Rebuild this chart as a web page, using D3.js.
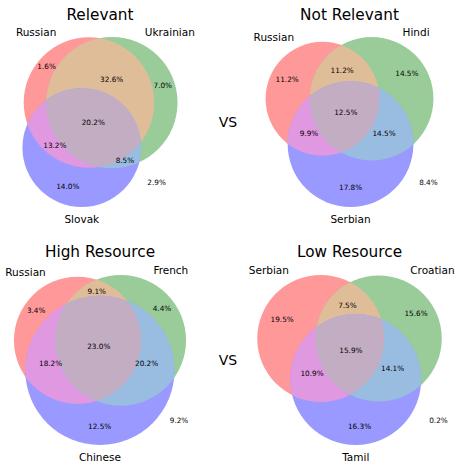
<!DOCTYPE html>
<html>
<head>
<meta charset="utf-8">
<script src="https://cdn.jsdelivr.net/npm/d3@7"></script>
<style>
  body { margin: 0; background: #fff; }
  svg text { font-family: 'DejaVu Sans', sans-serif; fill: #000; }
</style>
</head>
<body>
<div id="chart"></div>
<script>
// region order (matplotlib_venn style): Abc, aBc, ABc, abC, AbC, aBC, ABC
var titles = ['Relevant', 'Not Relevant', 'High Resource', 'Low Resource'];
var setNames = [
  ['Russian', 'Ukrainian', 'Slovak'],
  ['Russian', 'Hindi', 'Serbian'],
  ['Russian', 'French', 'Chinese'],
  ['Serbian', 'Croatian', 'Tamil']
];
var relevant     = [1.6, 7.0, 32.6, 14.0, 13.2, 8.5, 20.2];
var notRelevant  = [11.2, 14.5, 11.2, 17.8, 9.9, 14.5, 12.5];
var highResource = [3.4, 4.4, 9.1, 12.5, 18.2, 20.2, 23.0];
var lowResource  = [19.5, 15.6, 7.5, 16.3, 10.9, 14.1, 15.9];
var outside      = [2.9, 8.4, 9.2, 0.2];
var subsets = [relevant, notRelevant, highResource, lowResource];

var regionSets = [[1,0,0],[0,1,0],[1,1,0],[0,0,1],[1,0,1],[0,1,1],[1,1,1]];

var width = 457, height = 463;
var panelBox = [
  {cx: 100, cy: 122}, {cx: 349.5, cy: 122},
  {cx: 100, cy: 360}, {cx: 349.5, cy: 360}
];
var diagramHeight = 170;

// set colours like matplotlib_venn: r, g, b with alpha 0.4, mixed for overlaps
var base = [[1, 0, 0], [0, 0.502, 0], [0, 0, 1]];
function mix(idx) {
  var f = idx.length == 2 ? 0.7 : (idx.length == 3 ? 0.4 : 1);
  return [0, 1, 2].map(function(k) {
    return Math.min(1, f * d3.sum(idx, function(i) { return base[i][k] }));
  });
}
function blend(c) {
  // alpha 0.4 over white
  return d3.rgb.apply(null, c.map(function(v) { return Math.round(255 * (0.6 + 0.4 * v)) })).toString();
}
var regionColor = regionSets.map(function(m) {
  var idx = [];
  m.forEach(function(v, i) { if (v) idx.push(i) });
  return blend(mix(idx));
});

function lensArea(r1, r2, d) {
  if (d >= r1 + r2) return 0;
  if (d <= Math.abs(r1 - r2)) return Math.PI * Math.min(r1, r2) * Math.min(r1, r2);
  return r1 * r1 * Math.acos((d * d + r1 * r1 - r2 * r2) / (2 * d * r1)) +
    r2 * r2 * Math.acos((d * d + r2 * r2 - r1 * r1) / (2 * d * r2)) -
    0.5 * Math.sqrt((-d + r1 + r2) * (d + r1 - r2) * (d - r1 + r2) * (d + r1 + r2));
}

function distanceForArea(r1, r2, area) {
  var lo = Math.abs(r1 - r2), hi = r1 + r2;
  for (var i = 0; i < 80; i++) {
    var mid = (lo + hi) / 2;
    if (lensArea(r1, r2, mid) > area) lo = mid; else hi = mid;
  }
  return (lo + hi) / 2;
}

// circle radii from set areas, distances from pairwise overlaps
function solveVenn3(s) {
  var total = d3.sum(s);
  var a = s.map(function(v) { return v / total });
  var areas = [a[0] + a[2] + a[4] + a[6], a[1] + a[2] + a[5] + a[6], a[3] + a[4] + a[5] + a[6]];
  var r = areas.map(function(v) { return Math.sqrt(v / Math.PI) });
  var dAB = distanceForArea(r[0], r[1], a[2] + a[6]);
  var dBC = distanceForArea(r[1], r[2], a[5] + a[6]);
  var dAC = distanceForArea(r[0], r[2], a[4] + a[6]);
  var cx = (dAC * dAC - dBC * dBC + dAB * dAB) / (2 * dAB);
  var cy = -Math.sqrt(Math.max(0, dAC * dAC - cx * cx));
  var pts = [[0, 0], [dAB, 0], [cx, cy]];
  var w = r.map(function(v) { return v * v }), ws = d3.sum(w);
  var mx = d3.sum(pts, function(p, i) { return p[0] * w[i] }) / ws;
  var my = d3.sum(pts, function(p, i) { return p[1] * w[i] }) / ws;
  return pts.map(function(p, i) { return {x: p[0] - mx, y: p[1] - my, r: r[i]} });
}

function inside(c, x, y) {
  return (x - c.x) * (x - c.x) + (y - c.y) * (y - c.y) < c.r * c.r;
}

// label position: arc-length weighted mean of the midpoints of the region's arcs
function regionLabelPos(circles, m) {
  var N = 1440, mids = [];
  circles.forEach(function(c, i) {
    var flags = d3.range(N).map(function(k) {
      var t = 2 * Math.PI * k / N;
      var x = c.x + c.r * Math.cos(t), y = c.y + c.r * Math.sin(t);
      return circles.every(function(o, j) { return j == i || inside(o, x, y) == !!m[j] });
    });
    if (flags.every(function(f) { return !f })) return;
    var start = flags.findIndex(function(f, k) { return !f && flags[(k + 1) % N] });
    var k = (start + 1) % N, runStart = -1;
    for (var n = 0; n <= N; n++, k = (k + 1) % N) {
      if (n < N && flags[k] && runStart < 0) runStart = n;
      if ((n == N || !flags[k]) && runStart >= 0) {
        var t = 2 * Math.PI * (start + 1 + (runStart + n - 1) / 2) / N;
        mids.push([c.x + c.r * Math.cos(t), c.y + c.r * Math.sin(t), (n - runStart) * c.r]);
        runStart = -1;
      }
    }
  });
  var ws = d3.sum(mids, function(p) { return p[2] });
  return [d3.sum(mids, function(p) { return p[0] * p[2] }) / ws,
          d3.sum(mids, function(p) { return p[1] * p[2] }) / ws];
}

var svg = d3.select('#chart').append('svg')
  .attr('width', width)
  .attr('height', height);

var defs = svg.append('defs');

subsets.forEach(function(s, p) {
  var circles = solveVenn3(s);
  var box = panelBox[p];
  var x0 = d3.min(circles, function(c) { return c.x - c.r }), x1 = d3.max(circles, function(c) { return c.x + c.r });
  var y0 = d3.min(circles, function(c) { return c.y - c.r }), y1 = d3.max(circles, function(c) { return c.y + c.r });
  var k = diagramHeight / (y1 - y0);
  var x = d3.scaleLinear().domain([x0, x1]).range([box.cx - k * (x1 - x0) / 2, box.cx + k * (x1 - x0) / 2]);
  var y = d3.scaleLinear().domain([y0, y1]).range([box.cy + diagramHeight / 2, box.cy - diagramHeight / 2]);

  var g = svg.append('g').attr('class', 'panel');

  ['A', 'B'].forEach(function(n, i) {
    defs.append('clipPath').attr('id', 'clip' + p + n)
      .append('circle')
      .attr('cx', x(circles[i].x)).attr('cy', y(circles[i].y)).attr('r', k * circles[i].r);
  });

  function disc(parent, i, color) {
    parent.append('circle')
      .attr('cx', x(circles[i].x))
      .attr('cy', y(circles[i].y))
      .attr('r', k * circles[i].r)
      .attr('fill', color);
  }
  // painter's order so each region gets its own colour
  disc(g, 0, regionColor[0]);
  disc(g, 1, regionColor[1]);
  disc(g.append('g').attr('clip-path', 'url(#clip' + p + 'A)'), 1, regionColor[2]);
  disc(g, 2, regionColor[3]);
  disc(g.append('g').attr('clip-path', 'url(#clip' + p + 'A)'), 2, regionColor[4]);
  disc(g.append('g').attr('clip-path', 'url(#clip' + p + 'B)'), 2, regionColor[5]);
  disc(g.append('g').attr('clip-path', 'url(#clip' + p + 'A)')
    .append('g').attr('clip-path', 'url(#clip' + p + 'B)'), 2, regionColor[6]);

  // region labels
  regionSets.forEach(function(m, i) {
    var pos = regionLabelPos(circles, m);
    g.append('text')
      .attr('x', x(pos[0]))
      .attr('y', y(pos[1]))
      .attr('dy', '0.35em')
      .attr('text-anchor', 'middle')
      .attr('font-size', '7.3px')
      .text(s[i].toFixed(1) + '%');
  });

  // share outside all three sets, lower right of the diagram
  var c = circles[2];
  g.append('text')
    .attr('x', x(c.x + 0.54))
    .attr('y', y(y0) - 25)
    .attr('dy', '0.35em')
    .attr('text-anchor', 'middle')
    .attr('font-size', '7.3px')
    .text(outside[p].toFixed(1) + '%');

  // set labels
  var a = circles[0], b = circles[1];
  g.append('text')
    .attr('x', x(a.x - a.r / 2)).attr('y', y(a.y + a.r) - 1)
    .attr('text-anchor', 'end').attr('font-size', '10.5px')
    .text(setNames[p][0]);
  g.append('text')
    .attr('x', x(b.x + b.r / 2)).attr('y', y(b.y + b.r) - 1)
    .attr('text-anchor', 'start').attr('font-size', '10.5px')
    .text(setNames[p][1]);
  g.append('text')
    .attr('x', x(c.x)).attr('y', y(c.y - c.r) + 15.5)
    .attr('text-anchor', 'middle').attr('font-size', '10.5px')
    .text(setNames[p][2]);

  // title
  g.append('text')
    .attr('x', box.cx)
    .attr('y', p < 2 ? 19.5 : 257)
    .attr('text-anchor', 'middle')
    .attr('font-size', '15.3px')
    .text(titles[p]);
});

// "VS" between the pairs
[122, 360].forEach(function(cy) {
  svg.append('text')
    .attr('x', 228)
    .attr('y', cy + 5)
    .attr('text-anchor', 'middle')
    .attr('font-size', '14px')
    .text('VS');
});
</script>
</body>
</html>
